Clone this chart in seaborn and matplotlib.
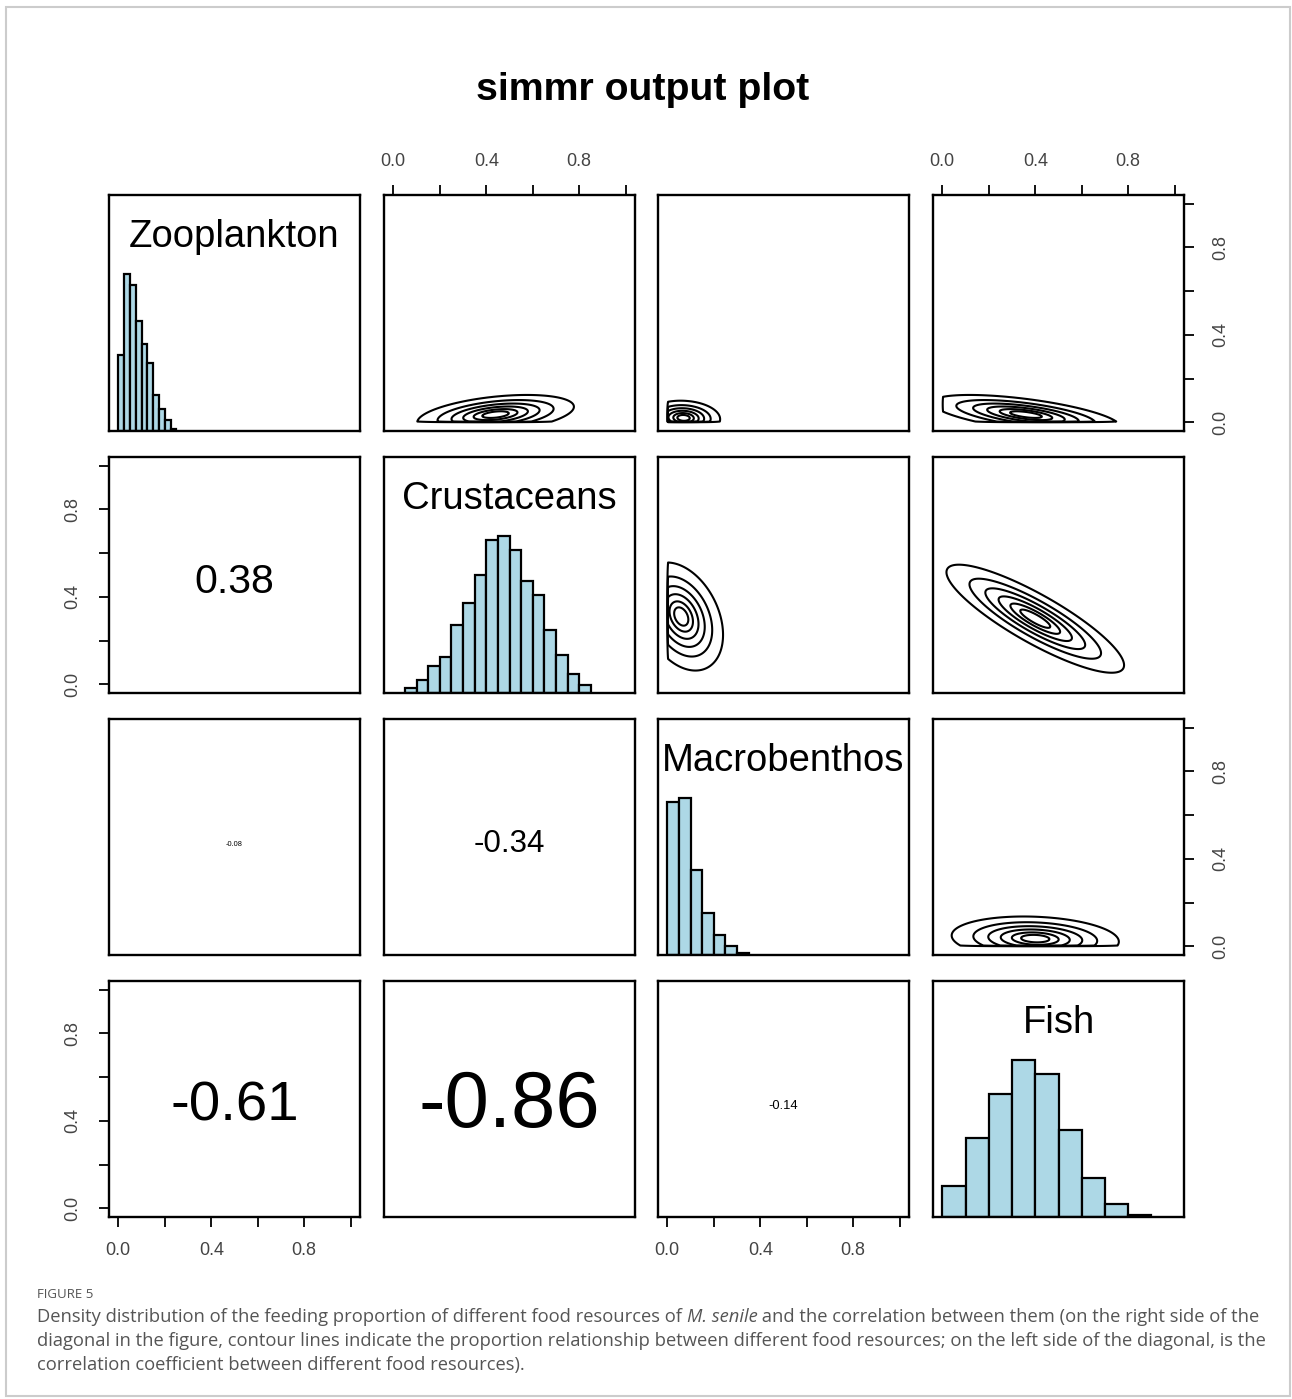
import numpy as np
import matplotlib
matplotlib.use("Agg")
import matplotlib.pyplot as plt
import seaborn as sns
from matplotlib.patches import Rectangle

sources = ["Zooplankton", "Crustaceans", "Macrobenthos", "Fish"]

# diagonal histograms: bin edges and bar heights (tallest bar = 1)
zoo_breaks = [0.0, 0.025, 0.05, 0.075, 0.1, 0.125, 0.15, 0.175, 0.2, 0.225, 0.25]
zoo_heights = [0.48, 1.0, 0.93, 0.70, 0.55, 0.43, 0.23, 0.14, 0.07, 0.015]
crus_breaks = [0.05, 0.1, 0.15, 0.2, 0.25, 0.3, 0.35, 0.4, 0.45, 0.5, 0.55,
               0.6, 0.65, 0.7, 0.75, 0.8, 0.85]
crus_heights = [0.03, 0.08, 0.17, 0.23, 0.43, 0.57, 0.75, 0.97, 1.0, 0.91,
                0.71, 0.62, 0.40, 0.24, 0.12, 0.05]
macro_breaks = [0.0, 0.05, 0.1, 0.15, 0.2, 0.25, 0.3, 0.35]
macro_heights = [0.97, 1.0, 0.54, 0.27, 0.13, 0.06, 0.015]
fish_breaks = [0.0, 0.1, 0.2, 0.3, 0.4, 0.5, 0.6, 0.7, 0.8, 0.9]
fish_heights = [0.20, 0.50, 0.78, 1.0, 0.91, 0.55, 0.25, 0.08, 0.015]
hist_breaks = [zoo_breaks, crus_breaks, macro_breaks, fish_breaks]
hist_heights = [zoo_heights, crus_heights, macro_heights, fish_heights]

# lower panels: correlation coefficients (row, col)
corr_cells = [(1, 0), (2, 0), (2, 1), (3, 0), (3, 1), (3, 2)]
corr_values = [0.38, -0.08, -0.34, -0.61, -0.86, -0.14]

# upper panels: joint density shape (row, col)
contour_cells = [(0, 1), (0, 2), (0, 3), (1, 2), (1, 3), (2, 3)]
contour_x_mean = [0.44, 0.07, 0.36, 0.06, 0.40, 0.40]
contour_y_mean = [0.035, 0.02, 0.035, 0.31, 0.30, 0.035]
contour_x_sd = [0.15, 0.07, 0.18, 0.08, 0.17, 0.16]
contour_y_sd = [0.04, 0.035, 0.04, 0.11, 0.11, 0.045]
contour_r = [0.40, -0.08, -0.60, -0.34, -0.86, -0.14]
contour_levels = [0.08, 0.25, 0.45, 0.65, 0.82, 0.93]

tick_vals = [0.0, 0.2, 0.4, 0.6, 0.8, 1.0]
tick_labels = ["0.0", "", "0.4", "", "0.8", ""]

sns.set_theme(style="white")
plt.rcParams["font.family"] = ["Liberation Sans", "DejaVu Sans"]

W, H = 1292, 1399
fig = plt.figure(figsize=(W / 100, H / 100), dpi=100)
fig.patch.set_facecolor("white")

col_left = [109, 384, 658, 933]
row_top = [195, 457, 719, 981]
cw, ch = 251, 236
lim = (-0.04, 1.04)

axes = {}
for i in range(4):
    for j in range(4):
        ax = fig.add_axes([col_left[j] / W, 1 - (row_top[i] + ch) / H, cw / W, ch / H])
        ax.set_xlim(lim)
        ax.set_ylim(lim)
        ax.set_xticks([])
        ax.set_yticks([])
        for s in ax.spines.values():
            s.set_color("black")
            s.set_linewidth(1.7)
        axes[(i, j)] = ax


def add_axis(ax, side):
    kw = dict(length=7, width=1.3, color="black", labelsize=13, labelcolor="#444444")
    if side in ("top", "bottom"):
        ax.set_xticks(tick_vals, tick_labels)
        ax.tick_params(axis="x", top=side == "top", bottom=side == "bottom",
                       labeltop=side == "top", labelbottom=side == "bottom", pad=11, **kw)
    else:
        ax.set_yticks(tick_vals, tick_labels)
        ax.tick_params(axis="y", left=side == "left", right=side == "right",
                       labelleft=side == "left", labelright=side == "right",
                       labelrotation=90, pad=13, **kw)
        for lab in ax.get_yticklabels():
            lab.set_va("center")


add_axis(axes[(0, 1)], "top")
add_axis(axes[(0, 3)], "top")
add_axis(axes[(3, 0)], "bottom")
add_axis(axes[(3, 2)], "bottom")
add_axis(axes[(1, 0)], "left")
add_axis(axes[(3, 0)], "left")
add_axis(axes[(0, 3)], "right")
add_axis(axes[(2, 3)], "right")

# diagonal: histograms + source names
for k in range(4):
    ax = axes[(k, k)]
    br = hist_breaks[k]
    centers = [(a + b) / 2 for a, b in zip(br[:-1], br[1:])]
    sns.histplot(x=centers, weights=hist_heights[k], bins=br, ax=ax,
                 color="lightblue", edgecolor="black", linewidth=1.6, alpha=1)
    ax.set_xlim(lim)
    ax.set_ylim(0, 1.5)
    ax.set_xlabel("")
    ax.set_ylabel("")
    ax.text(0.5, 0.82, sources[k], transform=ax.transAxes, ha="center", va="center",
            fontsize=27.5, color="black")

# upper: contours
gx = np.linspace(-0.04, 1.04, 300)
GX, GY = np.meshgrid(gx, gx)
for (i, j), mx, my, sx, sy, r in zip(contour_cells, contour_x_mean, contour_y_mean,
                                     contour_x_sd, contour_y_sd, contour_r):
    ax = axes[(i, j)]
    zx = (GX - mx) / sx
    zy = (GY - my) / sy
    dens = np.exp(-(zx ** 2 - 2 * r * zx * zy + zy ** 2) / (2 * (1 - r ** 2)))
    dens[(GX < 0) | (GY < 0)] = 0
    ax.contour(GX, GY, dens / dens.max(), levels=contour_levels, colors="black",
               linewidths=1.5)
    ax.set_xlim(lim)
    ax.set_ylim(lim)

# lower: correlation text, size scaled by |r|
fig.canvas.draw()
rend = fig.canvas.get_renderer()
for (i, j), r in zip(corr_cells, corr_values):
    ax = axes[(i, j)]
    txt = f"{r:.2f}"
    t = ax.text(0.5, 0.47, txt, transform=ax.transAxes, ha="center", va="center",
                fontsize=20, color="black")
    w = t.get_window_extent(rend).width
    t.set_fontsize(20 * 0.84 * abs(r) * cw / w)

fig.text(643 / W, 1 - 90 / H, "simmr output plot", ha="center", va="center",
         fontsize=28.3, fontweight="bold", color="black")

# caption
cap_color = "#555555"
fig.text(37 / W, 1 - 1298 / H, "FIGURE 5", fontsize=9.5, family="Open Sans",
         color=cap_color, va="baseline")
lines = [
    [("Density distribution of the feeding proportion of different food resources of ", "normal"),
     ("M. senile", "italic"),
     (" and the correlation between them (on the right side of the", "normal")],
    [("diagonal in the figure, contour lines indicate the proportion relationship between "
      "different food resources; on the left side of the diagonal, is the", "normal")],
    [("correlation coefficient between different food resources).", "normal")],
]
probe = fig.text(0, 0, "".join(s for s, _ in lines[0]), fontsize=12, family="Open Sans")
cap_fs = 12 * 1221 / probe.get_window_extent(rend).width
probe.remove()
for n, parts in enumerate(lines):
    x = 37
    y = 1322 + n * 24
    for s, style in parts:
        t = fig.text(x / W, 1 - y / H, s, fontsize=cap_fs, family="Open Sans",
                     style=style, color=cap_color, va="baseline")
        x += t.get_window_extent(rend).width

fig.add_artist(Rectangle((6 / W, 1 - 1396 / H), 1284 / W, 1389 / H, transform=fig.transFigure,
                         fill=False, edgecolor="#cccccc", linewidth=1.5))

fig.savefig("out.png", dpi=100)
plt.close(fig)
